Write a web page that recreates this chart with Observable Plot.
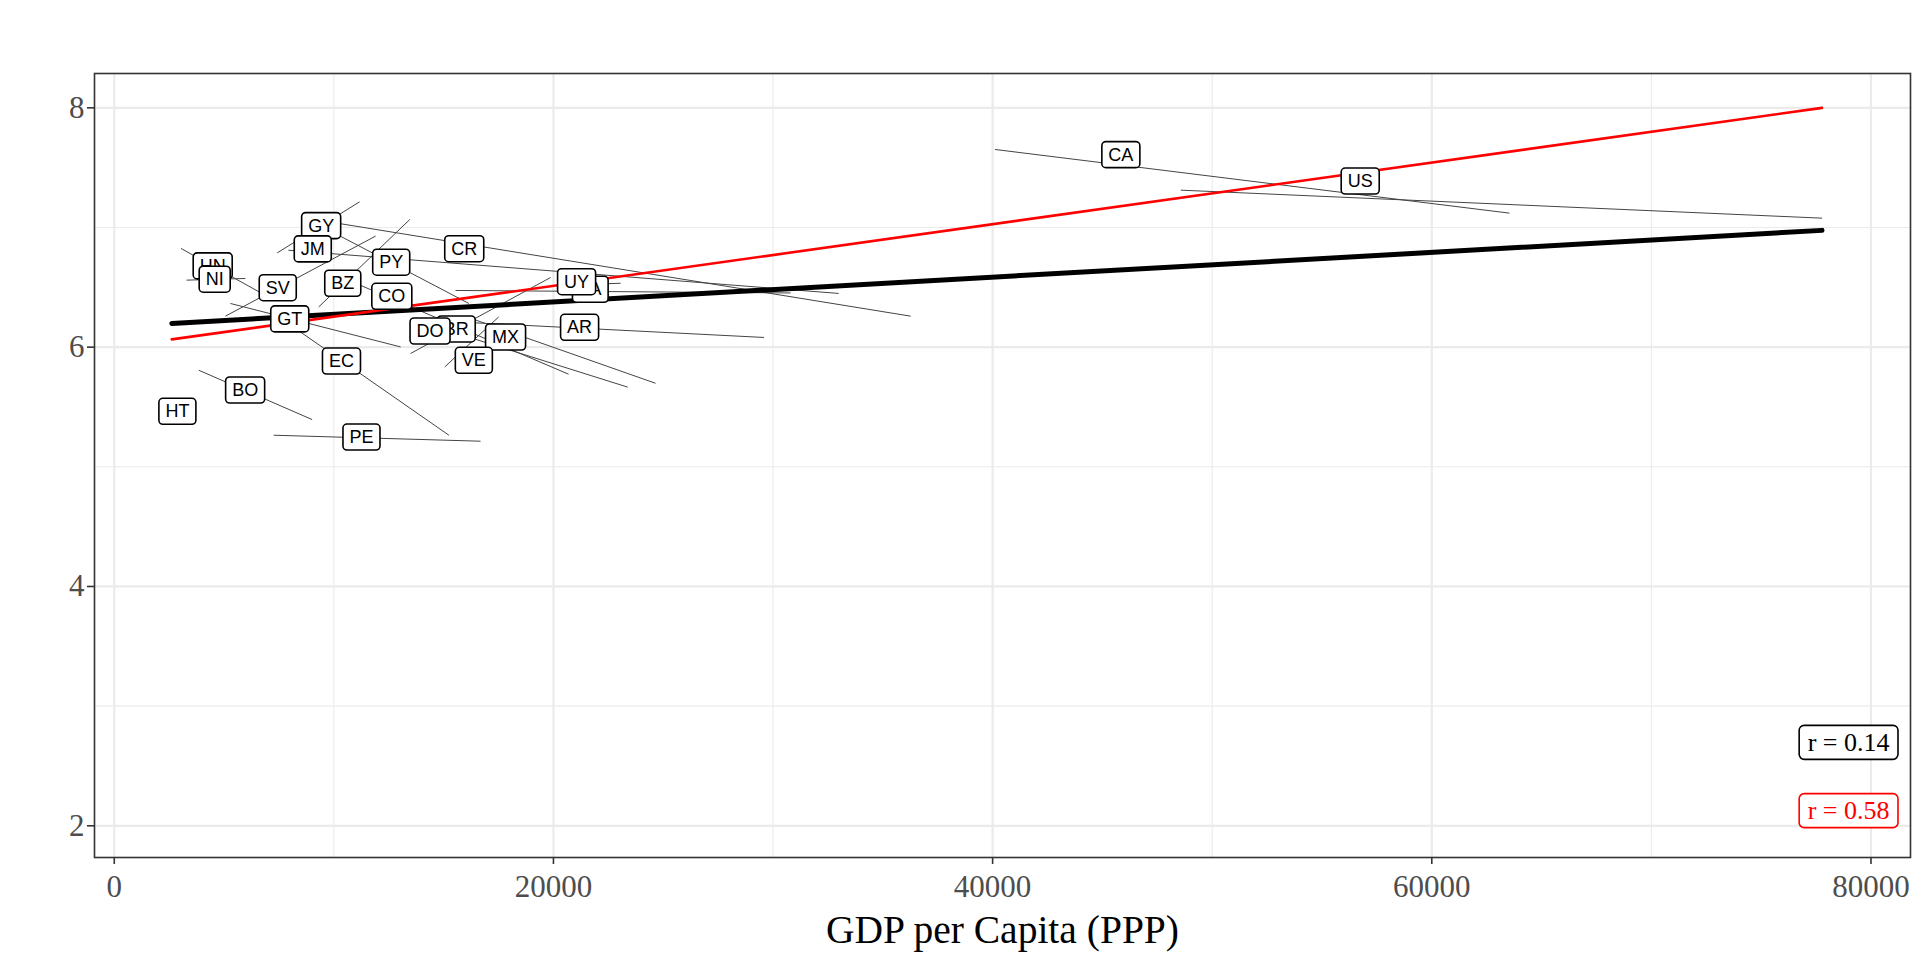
<!DOCTYPE html>
<html><head><meta charset="utf-8">
<script src="https://cdn.jsdelivr.net/npm/d3@7"></script>
<script src="https://cdn.jsdelivr.net/npm/@observablehq/plot@0.6"></script>
<style>body{margin:0;background:#fff}</style>
</head><body><div id="chart"></div>
<script>
// Countries (drawn in alphabetical order of full name)
const codes = ["AR","BZ","BO","BR","CA","CO","CR","DO","EC","SV","GT","GY","HT","HN","JM","MX","NI","PA","PY","PE","US","UY","VE"];
// label positions (country means)
const labelGdp = [21191,10406,5960,15573,45840,12639,15938,14380,10347,7445,7992,9422,2875,4483,9040,17820,4574,21678,12612,11258,56740,21054,16375];
const labelLs  = [6.164,6.532,5.640,6.150,7.607,6.423,6.821,6.133,5.882,6.495,6.234,7.014,5.462,6.677,6.819,6.083,6.566,6.482,6.708,5.247,7.386,6.545,5.888];
// within-country fitted segments
const gdpStart = [16450,9310,3850,14400,40110,10980,9850,13490,8250,5060,5290,7420,2620,3040,7930,16220,3290,20330,10210,7260,48570,15540,15050];
const gdpEnd   = [29590,13460,9010,23380,63540,20690,36270,19870,15240,11900,13040,11170,3200,6810,32990,24650,5970,23060,16150,16680,77770,30800,17510];
const lsStart  = [6.203,6.336,5.807,6.184,7.652,6.535,7.045,5.947,6.156,6.259,6.365,6.788,5.47,6.825,6.810,6.242,6.560,6.517,6.936,5.264,7.312,6.474,5.835];
const lsEnd    = [6.081,7.067,5.395,5.666,7.120,5.774,6.259,6.582,5.264,6.928,6.002,7.214,5.45,6.440,6.449,5.698,6.574,6.534,6.365,5.214,7.078,6.453,6.253];
// overall fits
const fitGdp = [2620, 77770];
const pooledLs = [6.198, 6.976];
const betweenLs = [6.065, 8.0];
// correlation annotations
const rTexts = ["r = 0.14", "r = 0.58"];
const rGdp = [78980, 78980];
const rLs = [2.696, 2.125];
const rColors = ["black", "red"];
// axis ticks
const xMajor = [0,20000,40000,60000,80000];
const xMinor = [10000,30000,50000,70000];
const yMajor = [2,4,6,8];
const yMinor = [3,5,7];

const segs = codes.map((c,i)=>({c, x1:gdpStart[i], x2:gdpEnd[i], y1:lsStart[i], y2:lsEnd[i]}));
const labs = codes.map((c,i)=>({c, x:labelGdp[i], y:labelLs[i]}));
const fit = fitGdp.map((x,i)=>({x, pooled:pooledLs[i], between:betweenLs[i]}));
const rData = rTexts.map((t,i)=>({t, x:rGdp[i], y:rLs[i], color:rColors[i]}));

const serif = "'Liberation Serif','Times New Roman',serif";
const sans = "'Liberation Sans',Arial,Helvetica,sans-serif";

const plot = Plot.plot({
  width: 1920, height: 960,
  marginLeft: 94, marginRight: 10, marginTop: 73, marginBottom: 103,
  x: {domain: [-900, 81800]},
  y: {domain: [1.735, 8.287]},
  style: {background: "white"},
  marks: [
    Plot.ruleX(xMinor, {stroke: "#ebebeb", strokeWidth: 1.1}),
    Plot.ruleY(yMinor, {stroke: "#ebebeb", strokeWidth: 1.1}),
    Plot.ruleX(xMajor, {stroke: "#ebebeb", strokeWidth: 2.2}),
    Plot.ruleY(yMajor, {stroke: "#ebebeb", strokeWidth: 2.2}),
    Plot.link(segs, {x1:"x1", y1:"y1", x2:"x2", y2:"y2", stroke: "#444", strokeWidth: 1}),
    Plot.line(fit, {x:"x", y:"pooled", stroke:"black", strokeWidth: 5}),
    Plot.line(fit, {x:"x", y:"between", stroke:"red", strokeWidth: 2.6}),
    Plot.text(labs, {x:"x", y:"y", text:"c", fontSize: 18, fontFamily: sans, fill:"black", className:"clabel"}),
    Plot.text(rData.filter(d=>d.color==="black"), {x:"x", y:"y", text:"t", fontSize: 26, fontFamily: serif, fill:"black", className:"rlabel-black"}),
    Plot.text(rData.filter(d=>d.color==="red"), {x:"x", y:"y", text:"t", fontSize: 26, fontFamily: serif, fill:"red", className:"rlabel-red"}),
    Plot.frame({stroke:"#333", strokeWidth: 1.6}),
    Plot.axisY(yMajor, {tickSize: 7, tickPadding: 3, stroke:"#333", strokeWidth: 1.6, fill:"#4d4d4d", fontSize: 31, fontFamily: serif, tickFormat: d3.format("d"), label: null}),
    Plot.axisX(xMajor, {tickSize: 7, tickPadding: 10, stroke:"#333", strokeWidth: 1.6, fill:"#4d4d4d", fontSize: 31, fontFamily: serif, tickFormat: d3.format("d"), label: null}),
    Plot.axisX({ticks: [], tickSize: 0, label: "GDP per Capita (PPP)", labelAnchor: "center", labelArrow: "none", labelOffset: 85, fill: "black", fontSize: 39.5, fontFamily: serif})
  ]
});
document.getElementById("chart").appendChild(plot);

function addBoxes(cls, padX, h, rx, color, sw) {
  const g = plot.querySelector("g." + cls);
  if (!g) return;
  g.querySelectorAll("text").forEach(t => {
    const bb = t.getBBox();
    const cy = bb.y + bb.height / 2;
    const r = document.createElementNS("http://www.w3.org/2000/svg", "rect");
    r.setAttribute("x", bb.x - padX);
    r.setAttribute("y", cy - h / 2);
    r.setAttribute("width", bb.width + 2 * padX);
    r.setAttribute("height", h);
    r.setAttribute("rx", rx);
    r.setAttribute("fill", "white");
    r.setAttribute("stroke", color);
    r.setAttribute("stroke-width", sw);
    const tr = t.getAttribute("transform");
    if (tr) r.setAttribute("transform", tr);
    t.parentNode.insertBefore(r, t);
  });
}
addBoxes("clabel", 6.5, 26, 4, "black", 1.6);
addBoxes("rlabel-black", 8.5, 34, 5, "black", 1.6);
addBoxes("rlabel-red", 8.5, 34, 5, "red", 1.6);
</script>
</body></html>
